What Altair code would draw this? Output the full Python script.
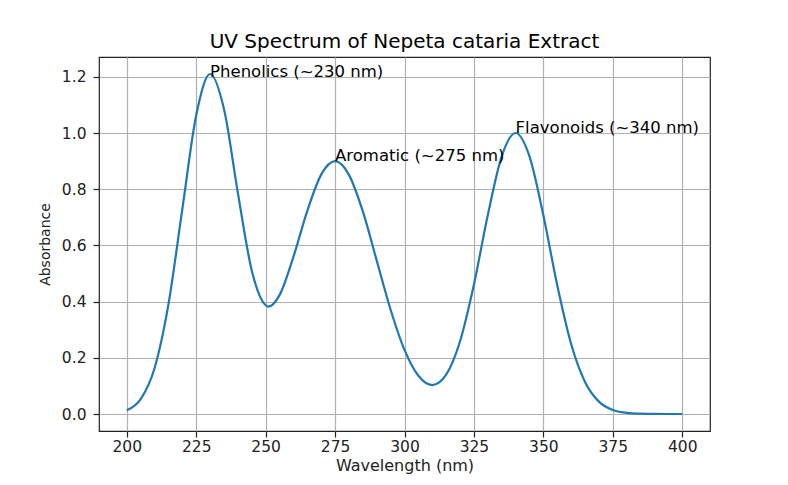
import altair as alt
import pandas as pd

wavelength = [200, 205, 210, 215, 220, 225, 230, 235, 240, 245, 250, 251, 255, 260, 265, 270,
              275, 280, 285, 290, 295, 300, 305, 310, 315, 320, 325, 330, 335, 340, 345,
              350, 355, 360, 365, 370, 375, 380, 385, 390, 395, 400]
absorbance = [0.013, 0.053, 0.163, 0.390, 0.729, 1.063, 1.210, 1.085, 0.787, 0.511, 0.387, 0.382,
              0.423, 0.559, 0.723, 0.852, 0.900, 0.851, 0.721, 0.546, 0.371, 0.228, 0.136,
              0.103, 0.140, 0.259, 0.461, 0.708, 0.917, 1.000, 0.917, 0.707, 0.458, 0.249,
              0.114, 0.044, 0.014, 0.004, 0.001, 0.0002, 0.0, 0.0]

ann_x = [230, 275, 340]
ann_y = [1.2, 0.9, 1.0]
ann_text = ["Phenolics (~230 nm)", "Aromatic (~275 nm)", "Flavonoids (~340 nm)"]

x_ticks = [200, 225, 250, 275, 300, 325, 350, 375, 400]
y_ticks = [0.0, 0.2, 0.4, 0.6, 0.8, 1.0, 1.2]

df = pd.DataFrame({"wavelength": wavelength, "absorbance": absorbance})
ann = pd.DataFrame({"x": ann_x, "y": ann_y, "label": ann_text})

FONT = "DejaVu Sans"

xscale = alt.Scale(domain=[190, 410], nice=False, zero=False)
yscale = alt.Scale(domain=[-0.0605, 1.2705], nice=False, zero=False)

line = alt.Chart(df).mark_line(color="#1f77b4", strokeWidth=2.2, interpolate="monotone").encode(
    x=alt.X("wavelength:Q", scale=xscale,
            axis=alt.Axis(title="Wavelength (nm)", values=x_ticks, format="d",
                          labelPadding=2, titlePadding=3, titleFontSize=16)),
    y=alt.Y("absorbance:Q", scale=yscale,
            axis=alt.Axis(title="Absorbance", values=y_ticks, format=".1f",
                          labelPadding=7, titlePadding=9, titleFontSize=14)),
)

text = alt.Chart(ann).mark_text(align="left", baseline="alphabetic", fontSize=16.5,
                                font=FONT, color="black").encode(
    x=alt.X("x:Q", scale=xscale),
    y=alt.Y("y:Q", scale=yscale),
    text="label:N",
)

chart = (line + text).properties(
    width=611, height=374,
    title=alt.TitleParams("UV Spectrum of Nepeta cataria Extract", fontSize=20,
                          font=FONT, fontWeight="normal", color="black", offset=5),
    autosize=alt.AutoSizeParams(type="none"),
    padding={"left": 91, "top": 49, "right": 70, "bottom": 46},
).configure_view(
    stroke="#222222", strokeWidth=1.2
).configure_axis(
    domain=False,
    grid=True, gridColor="#b0b0b0", gridWidth=1.2,
    ticks=True, tickColor="#222222", tickSize=6, tickWidth=1.2,
    labelFont=FONT, labelFontSize=15.5, labelColor="#222222",
    titleFont=FONT, titleFontWeight="normal", titleColor="#222222",
)

chart.save("out.html", embed_options={"renderer": "svg", "actions": False})
